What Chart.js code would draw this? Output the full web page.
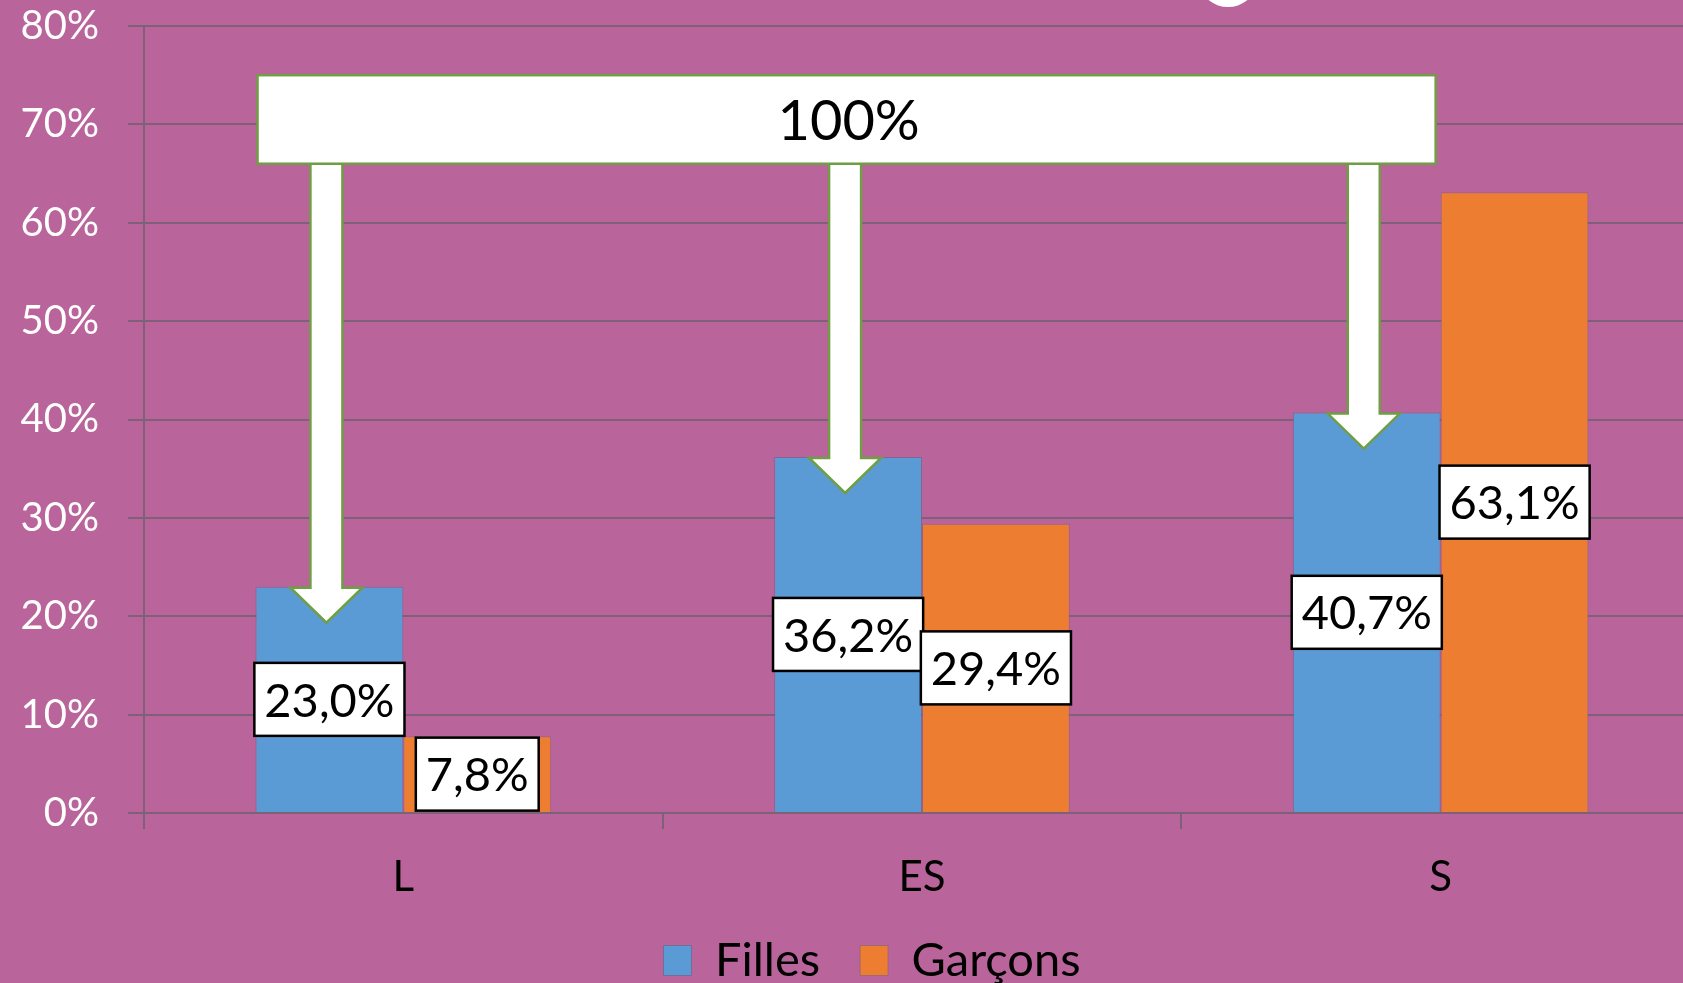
<!DOCTYPE html>
<html lang="fr">
<head>
<meta charset="utf-8">
<title>Filles / Garçons</title>
<script src="https://cdn.jsdelivr.net/npm/chart.js@4.4.0/dist/chart.umd.min.js"></script>
<style>
  html, body { margin: 0; padding: 0; overflow: hidden; background: #b9649a; }
  canvas { display: block; }
</style>
</head>
<body>
<canvas id="myChart" width="1700" height="994"></canvas>
<script>
// Séries
const SERIES = ['L', 'ES', 'S'];
const FILLES = [23.0, 36.2, 40.7];
const GARCONS = [7.8, 29.4, 63.1];
const TOTAL_LABEL = '100%';

const GRID = '#7f6079';
const GREEN = '#6f9e43';
const FONT = 'Lato, "Open Sans", sans-serif';

function fmt(v) { return v.toFixed(1).replace('.', ',') + '%' }

// légende un peu décalée vers la droite
const legendShift = {
    id: 'legendShift',
    afterLayout(chart) {
        chart.legend.left += 22;
        chart.legend.right += 22;
    }
};

// étiquettes de valeur, flèches et encadré "100%"
const overlay = {
    id: 'overlay',
    afterDatasetsDraw(chart) {
        const ctx = chart.ctx;
        const y = chart.scales.y;
        const filles = chart.getDatasetMeta(0).data;

        ctx.save();
        // flèches vers les barres Filles
        const boxTop = y.getPixelForValue(75);
        const boxBottom = y.getPixelForValue(66);
        ctx.lineWidth = 2.5;
        ctx.strokeStyle = GREEN;
        ctx.fillStyle = '#fff';
        filles.forEach(bar => {
            const cx = bar.x - 3;
            const tip = bar.y + 36;
            const headTop = tip - 35;
            ctx.beginPath();
            ctx.moveTo(cx - 16, boxBottom);
            ctx.lineTo(cx - 16, headTop);
            ctx.lineTo(cx - 36, headTop);
            ctx.lineTo(cx, tip);
            ctx.lineTo(cx + 36, headTop);
            ctx.lineTo(cx + 16, headTop);
            ctx.lineTo(cx + 16, boxBottom);
            ctx.closePath();
            ctx.fill();
            ctx.stroke();
        });

        // encadré
        const left = filles[0].x - filles[0].width / 2 + 2;
        const right = filles[filles.length - 1].x + filles[0].width / 2 - 5;
        ctx.fillRect(left, boxTop, right - left, boxBottom - boxTop);
        ctx.strokeRect(left, boxTop, right - left, boxBottom - boxTop);
        ctx.fillStyle = '#000';
        ctx.font = '56px ' + FONT;
        ctx.textAlign = 'center';
        ctx.textBaseline = 'middle';
        ctx.fillText(TOTAL_LABEL, (left + right) / 2 + 2, (boxTop + boxBottom) / 2 + 2);

        // valeurs dans les barres
        ctx.font = '47px ' + FONT;
        ctx.lineWidth = 2.5;
        ctx.strokeStyle = '#000';
        chart.data.datasets.forEach((ds, i) => {
            chart.getDatasetMeta(i).data.forEach((bar, j) => {
                const txt = fmt(ds.data[j]);
                const w = ctx.measureText(txt).width + 20;
                const h = 73;
                const cy = (bar.y + bar.base) / 2;
                ctx.fillStyle = '#fff';
                ctx.fillRect(bar.x - w / 2, cy - h / 2, w, h);
                ctx.strokeRect(bar.x - w / 2, cy - h / 2, w, h);
                ctx.fillStyle = '#000';
                ctx.fillText(txt, bar.x, cy + 2);
            });
        });

        // bas du titre coupé en haut
        ctx.fillStyle = '#fff';
        ctx.beginPath();
        ctx.ellipse(1228, -14, 26, 21, 0, 0, Math.PI * 2);
        ctx.fill();
        ctx.restore();
    }
};

const ctx = document.getElementById('myChart').getContext('2d');

new Chart(ctx, {
    type: 'bar',
    data: {
        labels: SERIES,
        datasets: [{
            label: 'Filles',
            data: FILLES,
            backgroundColor: '#5b9bd5',
            borderColor: 'rgba(110,100,140,0.7)',
            borderWidth: 1
        }, {
            label: 'Garçons',
            data: GARCONS,
            backgroundColor: '#ed7d31',
            borderColor: 'rgba(140,100,120,0.7)',
            borderWidth: 1
        }]
    },
    options: {
        responsive: false,
        animation: false,
        categoryPercentage: 0.57,
        barPercentage: 1,
        layout: { padding: { top: 26, left: 0, right: 0, bottom: 0 } },
        plugins: {
            tooltip: { enabled: false },
            legend: {
                position: 'bottom',
                labels: {
                    color: '#000',
                    font: { family: FONT, size: 47 },
                    boxWidth: 28,
                    boxHeight: 30,
                    padding: 40
                }
            }
        },
        scales: {
            x: {
                grid: { drawOnChartArea: false, color: GRID, lineWidth: 2, tickLength: 16 },
                border: { color: GRID, width: 2 },
                ticks: { color: '#000', font: { family: FONT, size: 42 }, padding: 23 },
                afterFit(scale) { scale.height = 84 }
            },
            y: {
                min: 0,
                max: 80,
                grid: { color: GRID, lineWidth: 2, tickLength: 16 },
                border: { color: GRID, width: 2 },
                ticks: {
                    stepSize: 10,
                    color: '#fff',
                    font: { family: FONT, size: 40 },
                    padding: 29,
                    callback: v => v + '%'
                },
                afterFit(scale) {
                    scale.width = 144;
                    scale.paddingTop = 0;
                    scale.paddingBottom = 0;
                }
            }
        }
    },
    plugins: [legendShift, overlay]
});
</script>
</body>
</html>
